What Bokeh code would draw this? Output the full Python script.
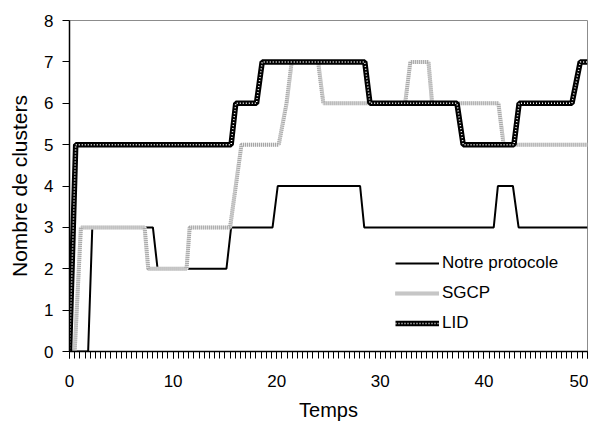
from bokeh.plotting import figure
from bokeh.embed import file_html
from bokeh.resources import INLINE
from bokeh.models import Range1d, SingleIntervalTicker, FixedTicker, Legend, LegendItem

# Data
t_notre = [0, 1.8, 2.2, 8.05, 8.5, 15.15, 15.6, 19.6, 20.1, 28.05, 28.45, 40.95, 41.35, 42.8, 43.35, 50]
y_notre = [0, 0, 3, 3, 2, 2, 3, 3, 4, 4, 3, 3, 4, 4, 3, 3]

t_sgcp = [0, 0.5, 1.1, 7.25, 7.6, 11.3, 11.6, 15.5, 16.6, 20.2, 20.95, 21.45, 24.0, 24.5, 32.4, 32.9, 34.65, 35.0, 41.4, 41.9, 50]
y_sgcp = [0, 0, 3, 3, 2, 2, 3, 3, 5, 5, 6, 7, 7, 6, 6, 7, 7, 6, 6, 5, 5]

t_lid = [0, 0.6, 15.6, 16.05, 18.05, 18.6, 28.5, 29.0, 37.4, 38.0, 42.9, 43.4, 48.5, 49.3, 50]
y_lid = [0, 5, 5, 6, 6, 7, 7, 6, 6, 5, 5, 6, 6, 7, 7]

labels = ["Notre protocole", "SGCP", "LID"]
x_title = "Temps"
y_title = "Nombre de clusters"

FONT = "Liberation Sans"

p = figure(width=588, height=423, output_backend="svg", toolbar_location=None,
           x_range=Range1d(0, 50), y_range=Range1d(0, 8),
           min_border_left=69, min_border_right=1, min_border_top=20, min_border_bottom=69)
p.xgrid.visible = False
p.ygrid.visible = False
p.outline_line_color = "#8c8c8c"
p.outline_line_width = 1
p.background_fill_color = "white"
p.border_fill_color = "white"

# lines
r_notre = p.line(t_notre, y_notre, line_color="black", line_width=2)
r_sgcp1 = p.line(t_sgcp, y_sgcp, line_color="#e6e6e6", line_width=4)
r_sgcp2 = p.line(t_sgcp, y_sgcp, line_color="#a6a6a6", line_width=4, line_dash="1 1")
r_lid1 = p.line(t_lid, y_lid, line_color="black", line_width=5.5)
r_lid2 = p.line(t_lid, y_lid, line_color="white", line_width=1.5, line_dash="1 2")

# axes
xa = p.xaxis[0]
xa.ticker = SingleIntervalTicker(interval=10, num_minor_ticks=20)
xa.axis_line_color = "black"
xa.axis_line_width = 1.5
xa.major_tick_out = 7
xa.major_tick_in = 0
xa.minor_tick_out = 7
xa.minor_tick_in = 0
xa.major_tick_line_color = "black"
xa.minor_tick_line_color = "black"
xa.major_label_text_font = FONT
xa.major_label_text_font_size = "17px"
xa.major_label_text_color = "black"
xa.major_label_standoff = 16
xa.axis_label = x_title
xa.axis_label_text_font = FONT
xa.axis_label_text_font_style = "normal"
xa.axis_label_text_font_size = "20px"
xa.axis_label_text_color = "black"
xa.axis_label_standoff = 9

ya = p.yaxis[0]
ya.ticker = FixedTicker(ticks=list(range(0, 9)))
ya.axis_line_color = "black"
ya.axis_line_width = 1.5
ya.major_tick_out = 7
ya.major_tick_in = 0
ya.minor_tick_line_color = None
ya.major_tick_line_color = "black"
ya.major_label_text_font = FONT
ya.major_label_text_font_size = "17px"
ya.major_label_text_color = "black"
ya.major_label_standoff = 9
ya.axis_label = y_title
ya.axis_label_text_font = FONT
ya.axis_label_text_font_style = "normal"
ya.axis_label_text_font_size = "21px"
ya.axis_label_text_color = "black"
ya.axis_label_standoff = 10

legend = Legend(items=[
    LegendItem(label=labels[0], renderers=[r_notre]),
    LegendItem(label=labels[1], renderers=[r_sgcp1, r_sgcp2]),
    LegendItem(label=labels[2], renderers=[r_lid1, r_lid2]),
], location=(326, 18))
legend.border_line_color = None
legend.background_fill_alpha = 0
legend.padding = 0
legend.margin = 0
legend.spacing = 10
legend.glyph_width = 44
legend.glyph_height = 20
legend.label_height = 20
legend.label_standoff = 3
legend.label_text_font = FONT
legend.label_text_font_size = "17px"
legend.label_text_color = "black"
p.add_layout(legend, "center")

open("out.html", "w").write(file_html(p, INLINE))
